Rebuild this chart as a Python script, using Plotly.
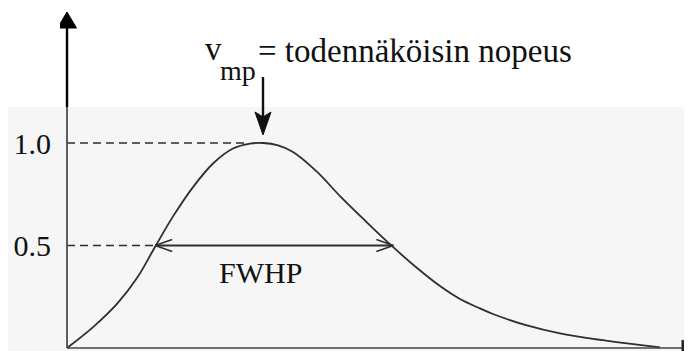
import plotly.graph_objects as go

# ---- data (x in units of v/v_mp, y relative to the peak) ----
curve_x = [0.0, 0.133, 0.255, 0.357, 0.449, 0.541, 0.643, 0.745, 0.847, 0.934, 1.0,
           1.077, 1.153, 1.276, 1.393, 1.531, 1.663, 1.786, 1.903, 2.005, 2.107, 2.173,
           2.347, 2.515, 2.684, 2.857, 3.026]
curve_y = [0.0, 0.102, 0.215, 0.341, 0.493, 0.642, 0.785, 0.900, 0.973, 0.997, 1.0,
           0.988, 0.956, 0.859, 0.741, 0.612, 0.493, 0.390, 0.302, 0.239, 0.193, 0.166,
           0.110, 0.071, 0.044, 0.023, 0.003]
tick_vals = [0.5, 1.0]
tick_text = ["0.5", "1.0"]
level_vals = [1.0, 0.5]
level_ends = [0.91, 0.45]
fwhp_x = [0.45, 1.665]
fwhp_y = 0.5
peak_x = 1.0
peak_y = 1.0
title_main = "v"
title_sub = "mp"
title_rest = "= todennäköisin nopeus"
fwhp_label = "FWHP"

# ---- layout geometry (page pixels; the page body adds an 8px offset) ----
W, H = 692, 351
OFF = 8
ORIG_X, ORIG_Y = 67, 348     # page px of the axes origin
PX_X, PX_Y = 196.0, 205.0    # px per data unit
PLOT_LEFT = 60               # page px of plot-area left edge

def xd(px):
    return (px - ORIG_X) / PX_X

def yd(py):
    return (ORIG_Y - py) / PX_Y

def dx(px):
    return px / PX_X

def dy(px):
    return px / PX_Y

ML = PLOT_LEFT - OFF
x_min = xd(PLOT_LEFT)
x_max = x_min + (W - ML) / PX_X
y_max = yd(OFF)
y_min = yd(OFF + H)
x_edge = xd(692)

FONT = "Liberation Serif, Times New Roman, serif"
INK = "#111111"
LINE = "#2e2e2e"

fig = go.Figure()

def line(xs, ys, color=LINE, width=1.6, **kw):
    fig.add_trace(go.Scatter(x=xs, y=ys, mode="lines", line=dict(color=color, width=width, **kw),
                             hoverinfo="skip", showlegend=False))

def tri(xs, ys, color):
    fig.add_trace(go.Scatter(x=xs, y=ys, mode="lines", fill="toself", fillcolor=color,
                             line=dict(color=color, width=1), hoverinfo="skip", showlegend=False))

# dashed guide lines
for lv, le in zip(level_vals, level_ends):
    line([0, le], [lv, lv], width=1.4, dash="8px,5px")

# curve
line(curve_x, curve_y, width=1.8, shape="spline", smoothing=1.0)

# FWHP double arrow
line(fwhp_x, [fwhp_y, fwhp_y], width=1.8)
for xe, sgn in zip(fwhp_x, [1, -1]):
    line([xe + sgn * dx(17), xe, xe + sgn * dx(17)],
         [fwhp_y + dy(6), fwhp_y, fwhp_y - dy(6)], width=1.5)

# peak arrow (shaft + filled head)
tip_y = peak_y + dy(8)
line([peak_x, peak_x], [tip_y + dy(18), tip_y + dy(58)], color="#111", width=2.4)
tri([peak_x, peak_x - dx(8), peak_x, peak_x + dx(8), peak_x],
    [tip_y, tip_y + dy(23), tip_y + dy(18), tip_y + dy(23), tip_y], "#111")

# y axis: black upper part, gray lower part, filled arrow head
band_top_y = yd(107)
top_tip = yd(12)
line([0, 0], [band_top_y, top_tip - dy(14)], color="#000", width=2.4)
line([0, 0], [0, band_top_y], color="#444", width=1.7)
tri([0, -dx(9.5), dx(9.5), 0], [top_tip, top_tip - dy(16), top_tip - dy(16), top_tip], "#000")

# x axis with arrow head at the right edge
line([0, x_edge], [0, 0], color="#444", width=1.7)
tri([x_edge + dx(4), x_edge - dx(10), x_edge - dx(10), x_edge + dx(4)],
    [0, dy(8), -dy(8), 0], "#222")

# texts
fig.add_annotation(x=xd(260), y=yd(272), text=fwhp_label, showarrow=False,
                   font=dict(family=FONT, size=30, color=INK),
                   xanchor="center", yanchor="middle")
fig.add_annotation(x=xd(203), y=yd(49), text=title_main, showarrow=False,
                   font=dict(family=FONT, size=33, color=INK),
                   xanchor="left", yanchor="middle")
fig.add_annotation(x=xd(218), y=yd(70), text=title_sub, showarrow=False,
                   font=dict(family=FONT, size=28, color=INK),
                   xanchor="left", yanchor="middle")
fig.add_annotation(x=xd(256), y=yd(51), text=title_rest, showarrow=False,
                   font=dict(family=FONT, size=33, color=INK),
                   xanchor="left", yanchor="middle")

band_paper_y = 1 - (107 - OFF) / H

fig.update_layout(
    width=W, height=H,
    margin=dict(l=ML, r=0, t=0, b=0),
    paper_bgcolor="white", plot_bgcolor="rgba(0,0,0,0)",
    showlegend=False,
    xaxis=dict(range=[x_min, x_max], visible=False, fixedrange=True),
    yaxis=dict(range=[y_min, y_max], showgrid=False, zeroline=False, showline=False,
               tickvals=tick_vals, ticktext=tick_text, ticks="outside", ticklen=2,
               tickcolor="rgba(0,0,0,0)",
               tickfont=dict(family=FONT, size=30, color=INK), fixedrange=True),
    shapes=[dict(type="rect", xref="paper", yref="paper", x0=-0.2, x1=1.05,
                 y0=-0.1, y1=band_paper_y, fillcolor="#f6f6f6", line=dict(width=0),
                 layer="below")],
)

fig.write_html("out.html")
